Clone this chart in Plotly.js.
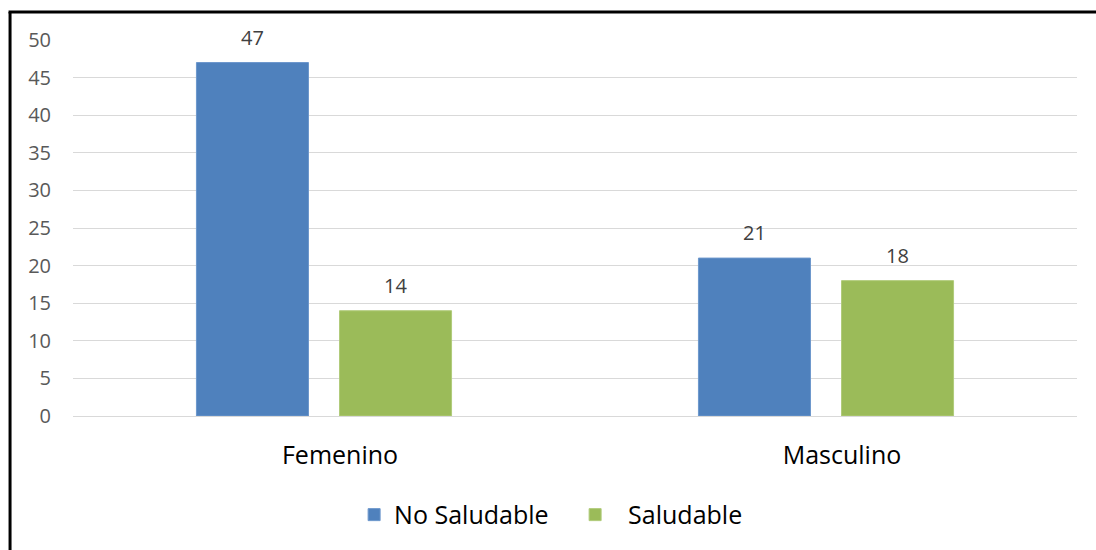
<!DOCTYPE html>
<html>
<head>
<meta charset="utf-8">
<script src="https://cdn.plot.ly/plotly-3.0.1.min.js"></script>
<style>
  html, body { margin: 0; padding: 0; background: #fff; }
  #chart { width: 1096px; height: 550px; }
</style>
</head>
<body>
<div id="chart"></div>
<script>
// Categories and series values
const categories = ['Femenino', 'Masculino'];
const seriesNames = ['No Saludable', '\u00a0\u00a0Saludable'];
const noSaludable = [47, 21];
const saludable = [14, 18];
const yTicks = [0, 5, 10, 15, 20, 25, 30, 35, 40, 45, 50];

const colors = ['#4F81BD', '#9BBB59'];
const edge = ['#6C97CC', '#B0CB7A'];
const FONT = '"Open Sans", "Noto Sans", sans-serif';
const bargap = 0.43;
const bargroupgap = 0.217;

const seriesValues = [noSaludable, saludable];

const traces = seriesValues.map((vals, i) => ({
  type: 'bar',
  name: seriesNames[i],
  x: categories,
  y: vals,
  marker: { color: colors[i], line: { color: edge[i], width: 1 } },
  hoverinfo: 'x+y+name'
}));

// Value labels sit above each bar, centred on its slot within the group
const slot = (1 - bargap) / 2;
const annotations = [];
seriesValues.forEach((vals, i) => {
  const off = (i - 0.5) * slot;
  vals.forEach((v, j) => {
    annotations.push({
      xref: 'x', yref: 'y',
      x: j + off, y: v,
      text: String(v),
      showarrow: false,
      yanchor: 'bottom',
      yshift: 10,
      font: { family: FONT, size: 20, color: '#404040' }
    });
  });
});

// Frame lines on the left and top edges of the page
const shapes = [
  { type: 'line', xref: 'paper', yref: 'paper',
    x0: -0.0627, x1: -0.0627, y0: -0.37, y1: 1.0745,
    line: { color: '#000', width: 3 } },
  { type: 'line', xref: 'paper', yref: 'paper',
    x0: -0.0642, x1: 1.03, y0: 1.0745, y1: 1.0745,
    line: { color: '#000', width: 3 } }
];

const layout = {
  width: 1096, height: 550,
  margin: { l: 73, r: 19, t: 40, b: 134 },
  paper_bgcolor: '#fff', plot_bgcolor: '#fff',
  barmode: 'group',
  bargap: bargap,
  bargroupgap: bargroupgap,
  showlegend: true,
  legend: {
    orientation: 'h',
    x: 0.28, xanchor: 'left',
    y: -0.263, yanchor: 'middle',
    font: { family: FONT, size: 25, color: '#000' },
    entrywidth: 176
  },
  xaxis: {
    type: 'category',
    tickfont: { family: FONT, size: 25, color: '#000' },
    showgrid: false,
    showline: false,
    ticks: '',
    ticklabelstandoff: 22,
    ticklabelshift: 16,
    fixedrange: true
  },
  yaxis: {
    range: [0, 50],
    tickvals: yTicks,
    ticktext: yTicks.map(String),
    tickfont: { family: FONT, size: 20, color: '#595959' },
    showgrid: true,
    gridcolor: '#D9D9D9',
    gridwidth: 1,
    zeroline: true,
    zerolinecolor: '#D9D9D9',
    zerolinewidth: 1,
    showline: false,
    ticks: '',
    ticklabelstandoff: 21,
    fixedrange: true
  },
  annotations: annotations,
  shapes: shapes
};

Plotly.newPlot('chart', traces, layout, { displayModeBar: false, staticPlot: true });
</script>
</body>
</html>
